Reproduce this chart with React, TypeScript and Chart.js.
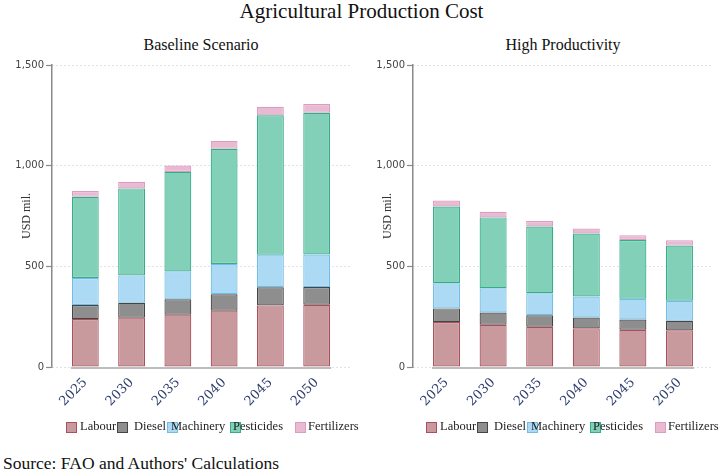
import React, { useEffect, useRef } from "react";
import { Chart, registerables } from "chart.js";

Chart.register(...registerables);

// Years on the horizontal axis
const years = ["2025", "2030", "2035", "2040", "2045", "2050"];
const costNames = ["Labour", "Diesel", "Machinery", "Pesticides", "Fertilizers"];

// Baseline scenario, USD mil.
const baseLabour = [238, 245, 260, 280, 306, 309];
const baseDiesel = [70, 74, 76, 81, 90, 88];
const baseMachinery = [134, 136, 139, 151, 162, 162];
const basePesticides = [403, 432, 494, 572, 692, 704];
const baseFertilizers = [29, 33, 32, 39, 43, 43];

// High productivity scenario, USD mil.
const highLabour = [223, 210, 200, 192, 185, 182];
const highDiesel = [68, 61, 57, 54, 51, 48];
const highMachinery = [125, 120, 109, 104, 103, 99];
const highPesticides = [381, 352, 332, 313, 292, 274];
const highFertilizers = [30, 28, 27, 25, 24, 26];

// Y axis ticks
const yTicks = [0, 500, 1000, 1500];

const fills = ["#c99a9d", "#8e8e8e", "#acd9f3", "#82d0b8", "#e9bbd3"];
const borders = ["#a9505c", "#454545", "#72bde6", "#34ad88", "#dc9cc1"];

const SERIF = "'DejaVu Serif', 'Liberation Serif', serif";
const TEXT_SERIF = "'Liberation Serif', serif";

// Solid baseline drawn under the bars, from the first bar's left edge to the last bar's right edge
const baselinePlugin = {
  id: "baseline",
  beforeDatasetsDraw(chart: any) {
    const meta = chart.getDatasetMeta(0);
    const els = meta.data;
    if (!els || !els.length) return;
    const first = els[0];
    const last = els[els.length - 1];
    const y = chart.scales.y.getPixelForValue(0);
    const ctx = chart.ctx;
    ctx.save();
    ctx.strokeStyle = "#bdbdbd";
    ctx.lineWidth = 2;
    ctx.beginPath();
    ctx.moveTo(first.x - first.width / 2 - 1, y + 1);
    ctx.lineTo(last.x + last.width / 2 + 1, y + 1);
    ctx.stroke();
    ctx.restore();
  },
};

type PanelProps = {
  series: number[][];
  width: number;
  height: number;
  padRight: number;
};

function Panel({ series, width, height, padRight }: PanelProps) {
  const ref = useRef<HTMLCanvasElement | null>(null);

  useEffect(() => {
    if (!ref.current) return;
    const chart = new Chart(ref.current, {
      type: "bar",
      data: {
        datasets: series.map((vals, k) => ({
          label: costNames[k],
          data: vals.map((v, i) => ({ x: i, y: v })),
          backgroundColor: fills[k],
          borderColor: borders[k],
          borderWidth: 1.2,
          borderSkipped: false,
          barPercentage: 0.58,
          categoryPercentage: 1,
        })),
      },
      options: {
        animation: false,
        responsive: false,
        devicePixelRatio: 1,
        layout: { padding: { top: 15, right: padRight, left: 0, bottom: 0 } },
        plugins: {
          legend: { display: false },
          tooltip: { enabled: false },
        },
        scales: {
          x: {
            type: "linear",
            stacked: true,
            offset: false,
            min: -0.72,
            max: years.length - 1 + 0.72,
            afterBuildTicks(scale: any) {
              scale.ticks = years.map((_, i) => ({ value: i }));
            },
            afterFit(scale: any) {
              scale.height = 53;
            },
            grid: { display: false },
            border: { display: false },
            ticks: {
              autoSkip: false,
              minRotation: 45,
              maxRotation: 45,
              padding: 0,
              color: "#2d3d6e",
              font: { family: SERIF, size: 13 },
              callback: (v: any) => years[v as number] ?? "",
            },
          },
          y: {
            stacked: true,
            min: 0,
            max: 1500,
            afterBuildTicks(scale: any) {
              scale.ticks = yTicks.map((v) => ({ value: v }));
            },
            afterFit(scale: any) {
              scale.width = 52;
            },
            border: { display: true, color: "#8a8a8a", width: 1.5, dash: [1, 3] },
            grid: {
              color: "#c4c4c4",
              lineWidth: 1,
              drawTicks: true,
              tickLength: 6,
              tickColor: "#8a8a8a",
              tickWidth: 1.2,
              tickBorderDash: [],
            },
            ticks: {
              padding: 2,
              color: "#444",
              font: { family: "'DejaVu Sans', sans-serif", size: 10 },
              callback: (v: any) => Number(v).toLocaleString("en-US"),
            },
            title: {
              display: true,
              text: "USD mil.",
              color: "#333",
              font: { family: TEXT_SERIF, size: 12 },
              padding: { top: 20, bottom: 0 },
            },
          },
        },
      },
      plugins: [baselinePlugin],
    } as any);
    return () => chart.destroy();
  }, [series, padRight]);

  return <canvas ref={ref} width={width} height={height} style={{ display: "block" }} />;
}

function Legend({ left, top }: { left: number; top: number }) {
  // box and label offsets of each legend entry
  const boxX = [0, 51, 101, 164, 229];
  const textX = [14, 68, 105, 167, 242];
  return (
    <div style={{ position: "absolute", left, top, height: 14, width: 320 }}>
      {costNames.map((name, k) => (
        <React.Fragment key={name}>
          <div
            style={{
              position: "absolute",
              left: boxX[k],
              top: 1,
              width: 9,
              height: 9,
              background: fills[k],
              border: `1px solid ${borders[k]}`,
            }}
          />
          <div
            style={{
              position: "absolute",
              left: textX[k],
              top: -2,
              font: `12.5px ${TEXT_SERIF}`,
              color: "#222",
              whiteSpace: "nowrap",
              lineHeight: "15px",
            }}
          >
            {name}
          </div>
        </React.Fragment>
      ))}
    </div>
  );
}

export default function App() {
  const baseSeries = [baseLabour, baseDiesel, baseMachinery, basePesticides, baseFertilizers];
  const highSeries = [highLabour, highDiesel, highMachinery, highPesticides, highFertilizers];
  return (
    <div
      style={{
        position: "absolute",
        left: 0,
        top: 0,
        width: 723,
        height: 471,
        background: "#fff",
        overflow: "hidden",
        fontFamily: TEXT_SERIF,
      }}
    >
      <div
        style={{
          position: "absolute",
          left: 0,
          top: -1,
          width: 723,
          textAlign: "center",
          font: `21px ${TEXT_SERIF}`,
          lineHeight: "24px",
          color: "#111",
        }}
      >
        Agricultural Production Cost
      </div>
      <div
        style={{
          position: "absolute",
          left: 52,
          top: 35,
          width: 298,
          textAlign: "center",
          font: `16px ${TEXT_SERIF}`,
          lineHeight: "19px",
          color: "#111",
        }}
      >
        Baseline Scenario
      </div>
      <div
        style={{
          position: "absolute",
          left: 413,
          top: 35,
          width: 300,
          textAlign: "center",
          font: `16px ${TEXT_SERIF}`,
          lineHeight: "19px",
          color: "#111",
        }}
      >
        High Productivity
      </div>
      <div style={{ position: "absolute", left: 0, top: 50 }}>
        <Panel series={baseSeries} width={361} height={370} padRight={11} />
      </div>
      <div style={{ position: "absolute", left: 361, top: 50 }}>
        <Panel series={highSeries} width={362} height={370} padRight={10} />
      </div>
      <Legend left={66} top={421} />
      <Legend left={426} top={421} />
      <div
        style={{
          position: "absolute",
          left: 3,
          top: 453,
          font: `17.5px ${TEXT_SERIF}`,
          lineHeight: "20px",
          color: "#111",
          whiteSpace: "nowrap",
        }}
      >
        Source: FAO and Authors' Calculations
      </div>
    </div>
  );
}
